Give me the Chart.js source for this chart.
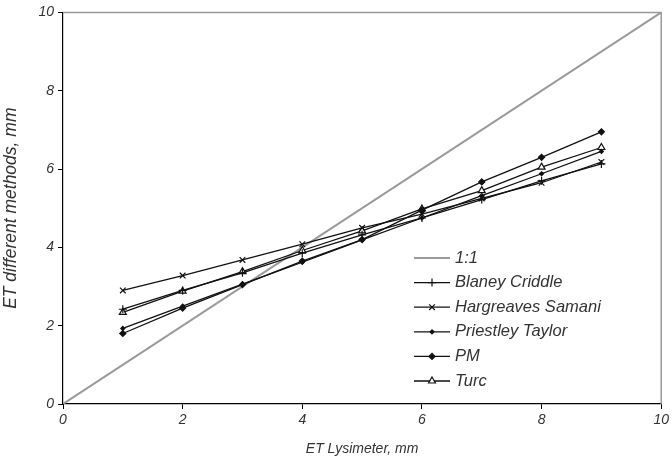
<!DOCTYPE html>
<html>
<head>
<meta charset="utf-8">
<script src="https://cdn.jsdelivr.net/npm/chart.js@4"></script>
<style>
  html, body { margin: 0; padding: 0; background: #fff; }
  #wrap { width: 672px; height: 458px; }
</style>
</head>
<body>
<div id="wrap"><canvas id="chart" width="672" height="458"></canvas></div>
<script>
const lysimeter = [1, 2, 3, 4, 5, 6, 7, 8, 9]
const oneToOneX = [0, 10]
const oneToOneY = [0, 10]
const blaneyCriddle = [2.42, 2.9, 3.35, 3.85, 4.32, 4.75, 5.22, 5.7, 6.13]
const hargreavesSamani = [2.9, 3.28, 3.68, 4.08, 4.5, 4.85, 5.25, 5.65, 6.18]
const priestleyTaylor = [1.93, 2.5, 3.06, 3.62, 4.19, 4.75, 5.32, 5.88, 6.45]
const pm = [1.8, 2.45, 3.05, 3.65, 4.2, 4.95, 5.67, 6.3, 6.95]
const turc = [2.34, 2.88, 3.38, 3.92, 4.42, 4.98, 5.45, 6.05, 6.55]
const axisTicks = [0, 2, 4, 6, 8, 10]

const toPoints = (xs, ys) => xs.map((x, i) => ({ x: x, y: ys[i] }))

function series(label, ys, style, radius, fill) {
  return {
    label: label,
    data: toPoints(lysimeter, ys),
    showLine: true,
    borderColor: "#111",
    borderWidth: 1.3,
    pointStyle: style,
    pointRadius: radius,
    pointBorderColor: "#111",
    pointBorderWidth: 1.2,
    pointBackgroundColor: fill,
  }
}

// legend drawn inside the plot, line + marker like Excel
const insideLegend = {
  id: "insideLegend",
  afterDatasetsDraw(chart) {
    const ctx = chart.ctx
    const x0 = 414
    let y = 258
    chart.data.datasets.forEach((ds) => {
      ctx.save()
      ctx.strokeStyle = ds.borderColor
      ctx.lineWidth = ds.borderWidth
      ctx.beginPath()
      ctx.moveTo(x0, y)
      ctx.lineTo(x0 + 36, y)
      ctx.stroke()
      if (ds.pointRadius > 0) {
        ctx.fillStyle = ds.pointBackgroundColor
        ctx.strokeStyle = ds.pointBorderColor
        ctx.lineWidth = ds.pointBorderWidth
        Chart.helpers.drawPoint(ctx, { pointStyle: ds.pointStyle, radius: ds.pointRadius, borderWidth: 1, rotation: 0 }, x0 + 18, y)
      }
      ctx.fillStyle = "#333"
      ctx.font = "italic 16.5px 'Liberation Sans', Arial, sans-serif"
      ctx.textBaseline = "middle"
      ctx.fillText(ds.label, x0 + 41, y)
      ctx.restore()
      y += 24.6
    })
  },
}

// grey top and right frame of the plot area
const frame = {
  id: "frame",
  beforeDatasetsDraw(chart) {
    const a = chart.chartArea
    const ctx = chart.ctx
    ctx.save()
    ctx.strokeStyle = "#9a9a9a"
    ctx.lineWidth = 1.5
    ctx.beginPath()
    ctx.moveTo(a.left, a.top)
    ctx.lineTo(a.right, a.top)
    ctx.lineTo(a.right, a.bottom)
    ctx.stroke()
    ctx.restore()
  },
}

const tickFont = { family: "'Liberation Sans', Arial, sans-serif", size: 14, style: "italic" }

new Chart(document.getElementById("chart"), {
  type: "scatter",
  data: {
    datasets: [
      {
        label: "1:1",
        data: toPoints(oneToOneX, oneToOneY),
        showLine: true,
        borderColor: "#9a9a9a",
        borderWidth: 2,
        pointRadius: 0,
        order: 10,
      },
      series("Blaney Criddle", blaneyCriddle, "cross", 4, "#111"),
      series("Hargreaves Samani", hargreavesSamani, "crossRot", 4, "#111"),
      series("Priestley Taylor", priestleyTaylor, "rectRot", 2, "#111"),
      series("PM", pm, "rectRot", 3, "#111"),
      series("Turc", turc, "triangle", 4, "#fff"),
    ],
  },
  options: {
    responsive: false,
    animation: false,
    layout: { padding: { top: 11, right: 10, left: 0, bottom: 0 } },
    plugins: {
      legend: { display: false },
      tooltip: { enabled: false },
    },
    scales: {
      x: {
        type: "linear",
        min: 0,
        max: 10,
        afterBuildTicks: (s) => { s.ticks = axisTicks.map((v) => ({ value: v })) },
        afterFit: (s) => { s.height = 54 },
        grid: { display: true, drawOnChartArea: false, drawTicks: true, tickLength: 5, color: "#000" },
        border: { color: "#000", width: 1.2 },
        ticks: { color: "#333", font: tickFont, padding: 3, maxRotation: 0 },
        title: { display: true, text: "ET Lysimeter, mm", color: "#333", font: tickFont, padding: { top: 0, bottom: 0 } },
      },
      y: {
        type: "linear",
        min: 0,
        max: 10,
        afterBuildTicks: (s) => { s.ticks = axisTicks.map((v) => ({ value: v })) },
        afterFit: (s) => { s.width = 63 },
        grid: { display: true, drawOnChartArea: false, drawTicks: true, tickLength: 5, color: "#000" },
        border: { color: "#000", width: 1.2 },
        ticks: { color: "#333", font: tickFont, padding: 4 },
        title: {
          display: true,
          text: "ET different methods, mm",
          color: "#333",
          font: { family: "'Liberation Sans', Arial, sans-serif", size: 17.5, style: "italic" },
          padding: { top: 1, bottom: 0 },
        },
      },
    },
  },
  plugins: [frame, insideLegend],
})
</script>
</body>
</html>
